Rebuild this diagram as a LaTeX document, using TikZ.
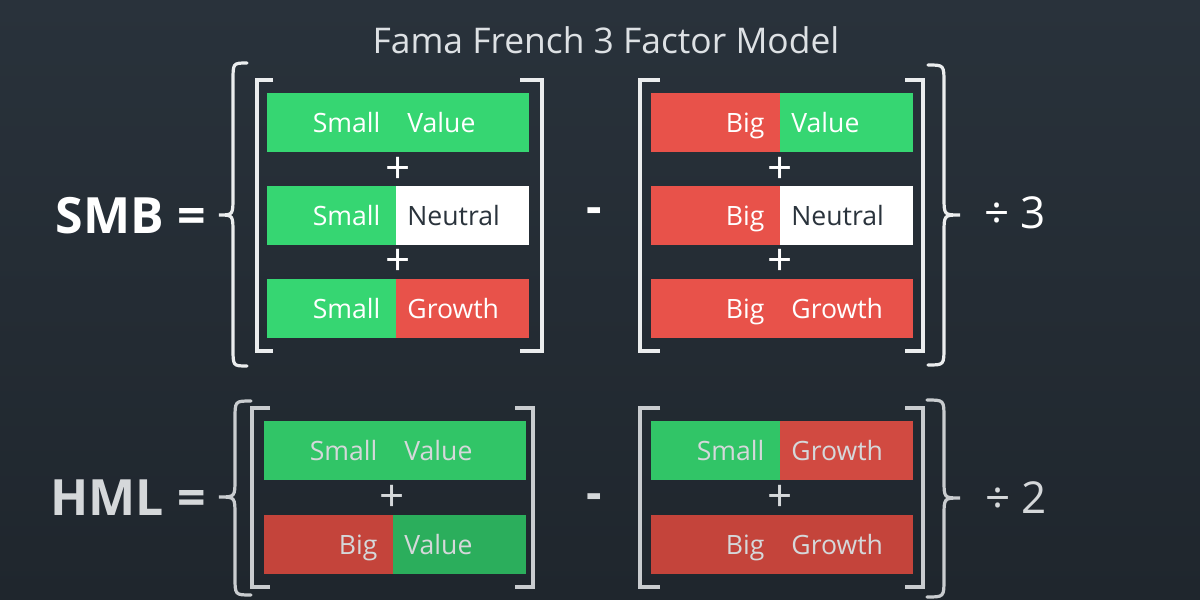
\documentclass[tikz,border=0pt]{standalone}
\usepackage{fontspec}
\setmainfont{Open Sans}
\usetikzlibrary{calc}

\definecolor{bgtop}{HTML}{29323B}
\definecolor{bgbot}{HTML}{1F262D}
\definecolor{gTop}{HTML}{36D672}
\definecolor{rTop}{HTML}{E8524A}
\definecolor{gMid}{HTML}{31C567}
\definecolor{rMid}{HTML}{D14A41}
\definecolor{gLow}{HTML}{2BAE5C}
\definecolor{rLow}{HTML}{C4443B}
\definecolor{inkDark}{HTML}{2A333C}
\definecolor{lineTop}{HTML}{EBEDEE}
\definecolor{lineLow}{HTML}{C9CCCF}
\definecolor{txtLow}{HTML}{D5D8DA}
\definecolor{titleInk}{HTML}{DDE1E4}

\tikzset{
  cellfont/.style={font=\fontsize{13.3}{15}\selectfont, text height=12pt, text depth=2pt},
  cellL/.style={cellfont, anchor=north west, minimum width=64.5pt, minimum height=29.5pt,
    inner sep=0pt, text width=48.5pt, align=right},
  cellR/.style={cellfont, anchor=north west, minimum width=66.5pt, minimum height=29.5pt,
    inner sep=0pt, text width=55pt, align=left},
  brk/.style={line width=1.6pt, line cap=butt, line join=miter},
  curly/.style={line width=1.6pt, line cap=round},
  plus/.style={font=\fontsize{22}{24}\selectfont, inner sep=0pt},
  minus/.style={font=\fontsize{24}{26}\selectfont\bfseries, inner sep=0pt},
  lhs/.style={font=\fontsize{25}{27}\selectfont\bfseries, anchor=east, inner sep=0pt},
  divby/.style={font=\fontsize{22}{24}\selectfont, anchor=west, inner sep=0pt},
}

% one row of a portfolio box: name, x, y, left fill, left text, right fill, right text, colours
\newcommand\fxrow[9]{%
  \node[cellL, fill=#4, text=#9] (#1l) at (#2,#3) {#5};
  \node[cellR, fill=#6, text=#8] (#1r) at ({#2+128.5},#3) {#7};
}

% curly brace: outer x, spine x, tip x, top y, tip y, bottom y
\newcommand\curlybrace[7]{%
  \draw[curly, #7] (#1,#4) .. controls (#2,#4) .. (#2,{#4+18})
    -- (#2,{#5-18}) .. controls (#2,#5) .. (#3,#5)
    .. controls (#2,#5) .. (#2,{#5+18})
    -- (#2,{#6-18}) .. controls (#2,#6) .. (#1,#6);
}

\begin{document}
\begin{tikzpicture}[x=0.5pt, y=-0.5pt]
  \useasboundingbox (0,0) rectangle (1200,600);
  \shade[top color=bgtop, bottom color=bgbot] (0,0) rectangle (1200,600);

  \node[font=\fontsize{17.7}{20}\selectfont, text=titleInk] (title) at (606,40) {Fama French 3 Factor Model};

  % ---------- SMB ----------
  \node[lhs, text=white] (smb) at (206,216) {SMB =};
  \curlybrace{247}{233}{219}{63}{215}{366}{lineTop}

  \draw[brk, lineTop] (273,80) -| (257,351) -- (273,351);
  \draw[brk, lineTop] (520,80) -| (542,351) -- (520,351);
  \fxrow{sa}{267}{93}{gTop}{Small}{gTop}{Value}{white}{white}
  \node[plus, text=white] (sp1) at (398,170) {+};
  \fxrow{sb}{267}{186}{gTop}{Small}{white}{Neutral}{inkDark}{white}
  \node[plus, text=white] (sp2) at (398,262) {+};
  \fxrow{sc}{267}{279}{gTop}{Small}{rTop}{Growth}{white}{white}

  \node[minus, text=white] (sm) at (594,216) {-};

  \draw[brk, lineTop] (660,80) -| (640,351) -- (660,351);
  \draw[brk, lineTop] (905,80) -| (923,351) -- (905,351);
  \fxrow{ba}{651}{93}{rTop}{Big}{gTop}{Value}{white}{white}
  \node[plus, text=white] (bp1) at (780,170) {+};
  \fxrow{bb}{651}{186}{rTop}{Big}{white}{Neutral}{inkDark}{white}
  \node[plus, text=white] (bp2) at (780,262) {+};
  \fxrow{bc}{651}{279}{rTop}{Big}{rTop}{Growth}{white}{white}

  \curlybrace{928}{944}{960}{65}{215}{365}{lineTop}
  \node[divby, text=white] (d3) at (984,213) {÷ 3};

  % ---------- HML ----------
  \node[lhs, text=txtLow] (hml) at (206,498) {HML =};
  \curlybrace{251}{235}{219}{401}{497}{595}{lineLow}

  \draw[brk, lineLow] (270,408) -| (252,587) -- (270,587);
  \draw[brk, lineLow] (515,408) -| (533,587) -- (515,587);
  \fxrow{ha}{264}{421}{gMid}{Small}{gMid}{Value}{txtLow}{txtLow}
  \node[plus, text=txtLow] (hp1) at (392,498) {+};
  \fxrow{hb}{264}{515}{rLow}{Big}{gLow}{Value}{txtLow}{txtLow}

  \node[minus, text=txtLow] (hm) at (594,502) {-};

  \draw[brk, lineLow] (660,408) -| (640,587) -- (660,587);
  \draw[brk, lineLow] (905,408) -| (923,587) -- (905,587);
  \fxrow{la}{651}{421}{gMid}{Small}{rMid}{Growth}{txtLow}{txtLow}
  \node[plus, text=txtLow] (lp1) at (780,498) {+};
  \fxrow{lb}{651}{515}{rLow}{Big}{rLow}{Growth}{txtLow}{txtLow}

  \curlybrace{927}{944}{960}{400}{498}{597}{lineLow}
  \node[divby, text=txtLow] (d2) at (985,498) {÷ 2};
\end{tikzpicture}
\end{document}
